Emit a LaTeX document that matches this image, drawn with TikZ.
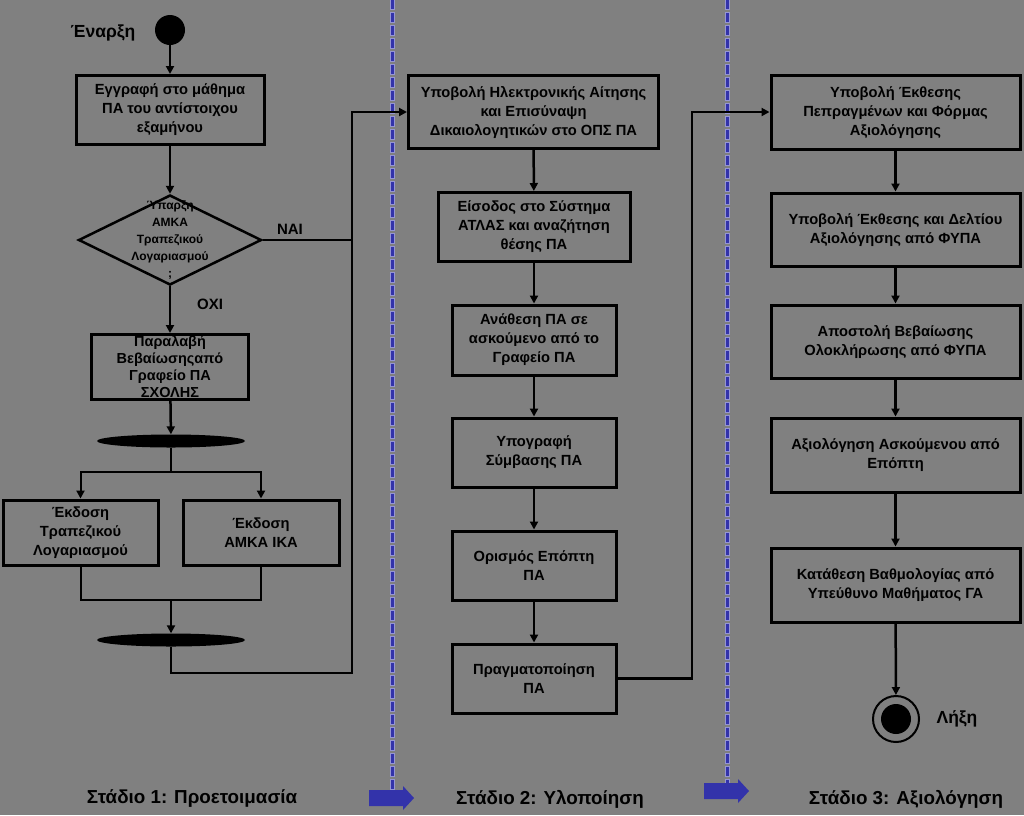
\documentclass[tikz,border=0pt]{standalone}
\usepackage{fontspec}
\setmainfont{Liberation Sans}
\usetikzlibrary{shapes.geometric,arrows.meta}
\definecolor{bg}{RGB}{128,128,128}
\definecolor{lane}{RGB}{51,51,170}
\definecolor{lanehalo}{RGB}{150,150,210}
\begin{document}
\begin{tikzpicture}[x=1pt,y=-1pt,
 box/.style={draw=black,line width=3pt,fill=bg,inner sep=0pt,align=center,font=\fontsize{14.7}{19}\selectfont\bfseries},
 arr/.style={-{Triangle[width=8pt,length=8pt]},line width=2.5pt},
 ln/.style={line width=2.5pt},
 bar/.style={ellipse,fill=black,minimum width=148pt,minimum height=13pt,inner sep=0pt},
 lbl/.style={font=\fontsize{15}{17}\selectfont\bfseries,inner sep=0pt},
 stage/.style={font=\fontsize{18.8}{20}\selectfont\bfseries,inner sep=0pt}
]
\fill[bg] (0,0) rectangle (1024,815);
\useasboundingbox (0,0) rectangle (1024,815);

% lane separators
\foreach \xx/\yy in {392/795,727/790}{
  \draw[lanehalo,line width=5pt,dash pattern=on 11pt off 2pt,dash phase=1pt] (\xx,0) -- (\xx,\yy);
  \draw[lane,line width=3pt,dash pattern=on 9pt off 4pt] (\xx,0) -- (\xx,\yy);
}
\fill[lane] (369,790) -- (403,790) -- (403,786) -- (414,798) -- (403,810) -- (403,806) -- (369,806) -- cycle;
\fill[lane] (704,783) -- (738,783) -- (738,779) -- (749,791) -- (738,803) -- (738,799) -- (704,799) -- cycle;

% column 1
\node[circle,fill=black,minimum size=30pt,inner sep=0pt] (start) at (170,30) {};
\node[lbl,font=\fontsize{17.5}{19}\selectfont\bfseries] (startl) at (103,33) {Έναρξη};
\node[box,minimum width=188pt,minimum height=69pt] (b1) at (170,110)
  {Εγγραφή στο μάθημα\\ΠΑ του αντίστοιχου\\εξαμήνου};
\node[diamond,draw=black,line width=2.5pt,fill=bg,minimum width=183pt,minimum height=90pt,inner sep=0pt] (dia) at (170,240) {};
\node[align=center,inner sep=0pt,font=\fontsize{12}{17}\selectfont\bfseries] (diat) at (170,240)
  {Ύπαρξη\\ΑΜΚΑ\\Τραπεζικού\\Λογαριασμού\\;};
\node[lbl] (nai) at (290,229) {ΝΑΙ};
\node[lbl] (oxi) at (210,304) {ΟΧΙ};
\node[box,font=\fontsize{14.5}{17}\selectfont\bfseries,minimum width=157pt,minimum height=65pt] (par) at (170,367)
  {Παραλαβή\\Βεβαίωσηςαπό\\Γραφείο ΠΑ\\ΣΧΟΛΗΣ};
\node[bar] (fork) at (171,441) {};
\node[box,minimum width=155pt,minimum height=65pt] (tb) at (80.5,532.5)
  {Έκδοση\\Τραπεζικού\\Λογαριασμού};
\node[box,minimum width=156pt,minimum height=65pt] (ami) at (261,532.5)
  {Έκδοση\\ΑΜΚΑ ΙΚΑ};
\node[bar] (join) at (171,640) {};
\coordinate (k1) at (352,240);
\coordinate (fk) at (171,472);
\coordinate (jm) at (171,600);
\coordinate (jb) at (171,673);
\coordinate (jc) at (352,673);

% column 2
\node[box,minimum width=250pt,minimum height=73pt] (c1) at (533.5,112)
  {Υποβολή Ηλεκτρονικής Αίτησης\\και Επισύναψη\\Δικαιολογητικών στο ΟΠΣ ΠΑ};
\node[box,minimum width=192pt,minimum height=69pt] (c2) at (534,227)
  {Είσοδος στο Σύστημα\\ΑΤΛΑΣ και αναζήτηση\\θέσης ΠΑ};
\node[box,minimum width=164pt,minimum height=70pt] (c3) at (534,340)
  {Ανάθεση ΠΑ σε\\ασκούμενο από το\\Γραφείο ΠΑ};
\node[box,minimum width=164pt,minimum height=69pt] (c4) at (534,452.5)
  {Υπογραφή\\Σύμβασης ΠΑ};
\node[box,minimum width=164pt,minimum height=69pt] (c5) at (534,565.5)
  {Ορισμός Επόπτη\\ΠΑ};
\node[box,minimum width=164pt,minimum height=69pt] (c6) at (534,678.5)
  {Πραγματοποίηση\\ΠΑ};
\coordinate (k2) at (692,678.5);

% column 3
\node[box,minimum width=249pt,minimum height=74pt] (d1) at (895.5,112)
  {Υποβολή Έκθεσης\\Πεπραγμένων και Φόρμας\\Αξιολόγησης};
\node[box,minimum width=249pt,minimum height=73pt] (d2) at (895.5,229.5)
  {Υποβολή Έκθεσης και Δελτίου\\Αξιολόγησης από ΦΥΠΑ};
\node[box,minimum width=249pt,minimum height=73pt] (d3) at (895.5,341.5)
  {Αποστολή Βεβαίωσης\\Ολοκλήρωσης από ΦΥΠΑ};
\node[box,minimum width=249pt,minimum height=74pt] (d4) at (895.5,455)
  {Αξιολόγηση Ασκούμενου από\\Επόπτη};
\node[box,minimum width=249pt,minimum height=74pt] (d5) at (895.5,585)
  {Κατάθεση Βαθμολογίας από\\Υπεύθυνο Μαθήματος ΓΑ};
\node[circle,draw=black,line width=2pt,fill=bg,minimum size=46pt,inner sep=0pt] (end) at (896,719) {};
\node[circle,fill=black,minimum size=30pt,inner sep=0pt] (endin) at (896,719) {};
\node[lbl,font=\fontsize{17.5}{19}\selectfont\bfseries] (endl) at (957,719) {Λήξη};

% stage labels
\node[stage] (s1) at (192,799) {Στάδιο 1: Προετοιμασία};
\node[stage] (s2) at (550,799) {Στάδιο 2: Υλοποίηση};
\node[stage] (s3) at (906,799) {Στάδιο 3: Αξιολόγηση};

% connectors column 1
\draw[arr] (start) -- (b1);
\draw[arr] (b1) -- (dia);
\draw[arr] (dia.south) -- (par.north);
\draw[arr] (dia.east) -- (k1) |- (c1.west);
\draw[arr] (par) -- (fork);
\draw[ln] (fork) -- (fk);
\draw[arr,line width=2pt] (fk) -| (tb.north);
\draw[arr,line width=2pt] (fk) -| (ami.north);
\draw[ln,line width=2pt] (tb.south) |- (jm) -| (ami.south);
\draw[arr] (jm) -- (join);
\draw[ln] (join) -- (jb) -- (jc) -- (k1);

% connectors column 2
\draw[arr] (c1) -- (c2);
\draw[arr] (c2) -- (c3);
\draw[arr] (c3) -- (c4);
\draw[arr] (c4) -- (c5);
\draw[arr] (c5) -- (c6);
\draw[arr] (c6.east) -- (k2) |- (d1.west);

% connectors column 3
\draw[arr] (d1) -- (d2);
\draw[arr] (d2) -- (d3);
\draw[arr] (d3) -- (d4);
\draw[arr] (d4) -- (d5);
\draw[arr] (d5) -- (end);
\end{tikzpicture}
\end{document}
